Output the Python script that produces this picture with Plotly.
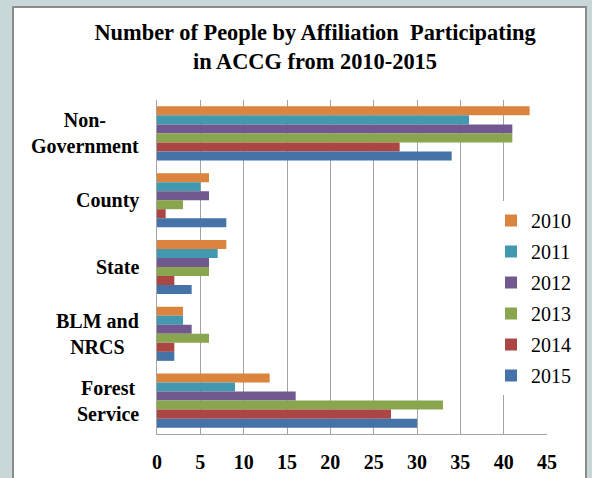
import plotly.graph_objects as go

categories = ["Non-Government", "County", "State", "BLM and NRCS", "Forest Service"]
category_labels = ["Non-<br>Government", "County", "State", "BLM and<br>NRCS", "Forest<br>Service"]
years = ["2010", "2011", "2012", "2013", "2014", "2015"]
values_2010 = [43, 6, 8, 3, 13]
values_2011 = [36, 5, 7, 3, 9]
values_2012 = [41, 6, 6, 4, 16]
values_2013 = [41, 3, 6, 6, 33]
values_2014 = [28, 1, 2, 2, 27]
values_2015 = [34, 8, 4, 2, 30]
series = [values_2010, values_2011, values_2012, values_2013, values_2014, values_2015]
colors = ["#DB843D", "#4198AF", "#71588F", "#89A54E", "#AA4643", "#4572A7"]

W, H = 592, 478
L, R, T, B = 157, 45, 100, 44
pw, ph = W - L - R, H - T - B

FONT = "Liberation Serif"

fig = go.Figure()
for yr, vals, col in zip(years, series, colors):
    fig.add_trace(go.Bar(
        y=categories, x=vals, name=yr, orientation="h",
        marker=dict(color=col, line=dict(width=0)),
        legendgroup=yr,
    ))

def px_x(p):
    return (p - L) / pw

def px_y(p):
    return (H - B - p) / ph

annotations = []
for cat, lab in zip(categories, category_labels):
    annotations.append(dict(
        x=0, xref="paper", y=cat, yref="y", text="<b>" + lab + "</b>",
        showarrow=False, xanchor="right", yanchor="middle", align="center",
        xshift=-16, font=dict(family=FONT, size=20, color="#000000"),
    ))

fig.update_layout(
    width=W, height=H,
    margin=dict(l=L, r=R, t=T, b=B, pad=0, autoexpand=False),
    paper_bgcolor="#C8D7D7",
    plot_bgcolor="#FFFFFF",
    font=dict(family=FONT),
    barmode="group", bargap=0.19, bargroupgap=0,
    title=dict(
        text="<b>Number of People by Affiliation  Participating<br>in ACCG from 2010-2015</b>",
        x=315 / W, xref="container", xanchor="center",
        y=1 - 40 / H, yref="container", yanchor="top", automargin=False,
        font=dict(family=FONT, size=22.4, color="#000000"),
    ),
    xaxis=dict(
        range=[0, 45], dtick=5, tick0=0, showgrid=True, gridcolor="#A3A3A3", gridwidth=1,
        zeroline=False, showline=True, linecolor="#A3A3A3", linewidth=1,
        ticks="", ticklabelstandoff=10, automargin=False,
        tickfont=dict(family=FONT, size=20, color="#000000", weight="bold"),
        fixedrange=True,
    ),
    yaxis=dict(
        autorange="reversed", showticklabels=False, showgrid=False, zeroline=False,
        showline=True, linecolor="#A3A3A3", linewidth=1, ticks="", fixedrange=True,
        automargin=False,
    ),
    legend=dict(
        x=px_x(491), xref="paper", xanchor="left",
        y=px_y(201), yref="paper", yanchor="top",
        bgcolor="#FFFFFF", borderwidth=0,
        font=dict(family=FONT, size=20, color="#000000"),
        traceorder="grouped", tracegroupgap=2, itemwidth=30,
    ),
    annotations=annotations,
    shapes=[dict(
        type="rect", xref="paper", yref="paper",
        x0=px_x(13), x1=px_x(586), y0=px_y(500), y1=px_y(7),
        fillcolor="#FFFFFF", line=dict(color="#8C8C8C", width=2), layer="below",
    )],
)

fig.write_html(
    "out.html",
    config={"displayModeBar": False},
    post_script="document.body.style.margin='0';document.body.style.padding='0';",
)
